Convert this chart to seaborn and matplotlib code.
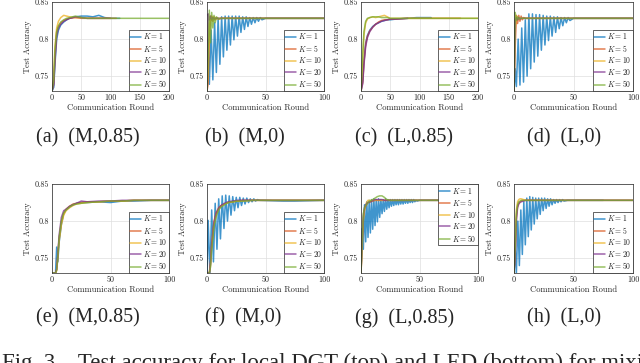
import numpy as np
import matplotlib
matplotlib.use("Agg")
import matplotlib.pyplot as plt
import seaborn as sns

# series labels and MATLAB default colours
k_labels = [r"$K = 1$", r"$K = 5$", r"$K = 10$", r"$K = 20$", r"$K = 50$"]
k_colors = ["#0072BD", "#D95319", "#EDB120", "#7E2F8E", "#77AC30"]
y_ticks = [0.75, 0.8, 0.85]
y_ticklabels = ["0.75", "0.8", "0.85"]

# (a) (M,0.85) - local DGT
a_rounds = [0, 3, 5, 8, 11, 15, 20, 25, 30, 40, 50, 60, 70, 80, 90, 100, 110, 116, 200]
a_k1 = [0.730, 0.735, 0.765, 0.800, 0.812, 0.819, 0.823, 0.826, 0.828, 0.830, 0.831, 0.831, 0.830, 0.832, 0.829, 0.828, 0.828, 0.828]
a_k5 = [0.730, 0.740, 0.775, 0.810, 0.817, 0.822, 0.825, 0.827, 0.828, 0.829, 0.828, 0.828, 0.828, 0.828, 0.828, 0.828, 0.828]
a_k10 = [0.730, 0.750, 0.790, 0.815, 0.824, 0.829, 0.832, 0.831, 0.830, 0.829, 0.829, 0.828, 0.828, 0.828, 0.828, 0.828]
a_k20 = [0.730, 0.738, 0.770, 0.805, 0.815, 0.820, 0.824, 0.826, 0.828, 0.830, 0.829, 0.828, 0.828, 0.828, 0.828, 0.828]
a_k50 = [0.730, 0.745, 0.785, 0.810, 0.818, 0.823, 0.826, 0.828, 0.829, 0.831, 0.829, 0.828, 0.828, 0.828, 0.828, 0.828, 0.828, 0.828, 0.828]

# (b) (M,0)
b_k1_rounds = [0, 1, 2, 3.5, 5, 6.5, 8, 9.5, 11, 12.5, 14, 15.5, 17, 18.5, 20, 21.5, 23, 24.5, 26, 27.5,
               29, 30.5, 32, 33.5, 35, 36.5, 38, 39.5, 41, 42.5, 44, 45.5, 47, 50, 100]
b_k1 = [0.730, 0.800, 0.739, 0.812, 0.745, 0.822, 0.755, 0.828, 0.766, 0.830, 0.776, 0.831, 0.785, 0.831,
        0.792, 0.831, 0.799, 0.831, 0.804, 0.831, 0.809, 0.830, 0.813, 0.830, 0.817, 0.829, 0.820, 0.829,
        0.822, 0.829, 0.824, 0.829, 0.826, 0.828, 0.828]
b_rounds = [0, 1, 2, 3, 4, 5, 6, 7, 8, 10, 12, 15, 20, 100]
b_k5 = [0.730, 0.740, 0.800, 0.826, 0.831, 0.824, 0.830, 0.826, 0.829, 0.827, 0.828, 0.828, 0.828, 0.828]
b_k10 = [0.730, 0.760, 0.820, 0.831, 0.825, 0.830, 0.826, 0.829, 0.827, 0.828, 0.828, 0.828, 0.828, 0.828]
b_k20 = [0.730, 0.834, 0.826, 0.831, 0.826, 0.829, 0.827, 0.828, 0.828, 0.828, 0.828, 0.828, 0.828, 0.828]
b_k50 = [0.730, 0.780, 0.839, 0.795, 0.836, 0.815, 0.832, 0.822, 0.830, 0.827, 0.828, 0.828, 0.828, 0.828]

# (c) (L,0.85)
c_rounds = [0, 3, 5, 8, 11, 15, 20, 25, 30, 35, 40, 45, 50, 60, 80, 95, 110, 120, 140, 170, 200]
c_k1 = [0.730, 0.745, 0.770, 0.795, 0.805, 0.812, 0.817, 0.820, 0.822, 0.824, 0.825, 0.826, 0.826, 0.827, 0.828, 0.829, 0.829, 0.829]
c_k5 = [0.730, 0.742, 0.768, 0.793, 0.804, 0.811, 0.816, 0.820, 0.823, 0.825, 0.826, 0.826, 0.827, 0.827, 0.828, 0.828, 0.828, 0.828, 0.828, 0.828]
c_k10 = [0.730, 0.775, 0.805, 0.822, 0.827, 0.829, 0.830, 0.829, 0.830, 0.831, 0.832, 0.830, 0.828, 0.828, 0.828, 0.828, 0.828, 0.828, 0.828, 0.828, 0.828]
c_k20 = [0.730, 0.740, 0.765, 0.790, 0.802, 0.810, 0.816, 0.820, 0.822, 0.824, 0.825, 0.826, 0.827, 0.827, 0.828]
c_k50 = [0.730, 0.780, 0.810, 0.824, 0.828, 0.829, 0.830, 0.830, 0.830, 0.829, 0.829, 0.829, 0.828, 0.828, 0.828, 0.828, 0.828, 0.828, 0.828, 0.828, 0.828]

# (d) (L,0)
d_k1_rounds = [0, 1, 2, 3.5, 5, 6.5, 8, 9.5, 11, 12.5, 14, 15.5, 17, 18.5, 20, 21.5, 23, 24.5, 26, 27.5,
               29, 30.5, 32, 33.5, 35, 36.5, 38, 39.5, 41, 42.5, 44, 45.5, 47, 50, 100]
d_k1 = [0.730, 0.760, 0.736, 0.800, 0.738, 0.815, 0.742, 0.826, 0.750, 0.834, 0.760, 0.834, 0.769, 0.833,
        0.777, 0.833, 0.785, 0.832, 0.792, 0.831, 0.798, 0.831, 0.804, 0.830, 0.809, 0.830, 0.814, 0.829,
        0.818, 0.829, 0.822, 0.829, 0.825, 0.828, 0.828]
d_rounds = [0, 1, 2, 3, 4, 5, 6, 7, 8, 10, 15, 100]
d_k5 = [0.730, 0.790, 0.832, 0.821, 0.832, 0.824, 0.831, 0.826, 0.829, 0.828, 0.828, 0.828]
d_k10 = [0.730, 0.815, 0.831, 0.826, 0.829, 0.827, 0.828, 0.828, 0.828, 0.828, 0.828, 0.828]
d_k20 = [0.730, 0.825, 0.829, 0.826, 0.829, 0.827, 0.828, 0.828, 0.828, 0.828, 0.828, 0.828]
d_k50 = [0.730, 0.836, 0.825, 0.830, 0.827, 0.828, 0.828, 0.828, 0.828, 0.828, 0.828, 0.828]

# (e) (M,0.85) - LED
e_rounds = [0, 3, 4, 5, 6, 8, 10, 12, 15, 18, 21, 25, 30, 40, 50, 60, 70, 85, 100]
e_k1 = [0.730, 0.730, 0.765, 0.745, 0.770, 0.795, 0.810, 0.815, 0.819, 0.822, 0.824, 0.825, 0.825, 0.826, 0.825, 0.827, 0.827, 0.828, 0.828]
e_k5 = [0.730, 0.730, 0.735, 0.755, 0.775, 0.798, 0.810, 0.816, 0.820, 0.823, 0.824, 0.825, 0.826, 0.826, 0.827, 0.827, 0.828, 0.828, 0.828]
e_k10 = [0.730, 0.730, 0.733, 0.750, 0.772, 0.795, 0.808, 0.814, 0.818, 0.821, 0.823, 0.824, 0.825, 0.826, 0.827, 0.827, 0.828, 0.828, 0.828]
e_k20 = [0.730, 0.730, 0.735, 0.755, 0.780, 0.805, 0.814, 0.816, 0.820, 0.822, 0.824, 0.827, 0.826, 0.827, 0.827, 0.828, 0.828, 0.828, 0.828]
e_k50 = [0.730, 0.730, 0.734, 0.752, 0.776, 0.800, 0.811, 0.815, 0.819, 0.822, 0.823, 0.824, 0.825, 0.826, 0.827, 0.827, 0.828, 0.828, 0.828]

# (f) (M,0)
f_k1_rounds = [0, 1, 2.5, 4, 5.5, 7, 8.5, 10, 11.5, 13, 14.5, 16, 17.5, 19, 20.5, 22, 23.5, 25, 26.5, 28,
               29.5, 31, 32.5, 34, 35.5, 37, 38.5, 40, 41.5, 43, 45, 65, 75, 100]
f_k1 = [0.730, 0.801, 0.730, 0.815, 0.745, 0.824, 0.762, 0.830, 0.776, 0.834, 0.790, 0.835, 0.800, 0.834,
        0.808, 0.833, 0.814, 0.832, 0.818, 0.832, 0.821, 0.831, 0.823, 0.831, 0.825, 0.830, 0.826, 0.830,
        0.827, 0.829, 0.828, 0.827, 0.827, 0.828]
f_rounds = [0, 2, 3, 4, 6, 8, 10, 12, 15, 18, 22, 26, 30, 40, 50, 100]
f_k5 = [0.730, 0.730, 0.745, 0.770, 0.800, 0.812, 0.818, 0.821, 0.823, 0.825, 0.826, 0.827, 0.828, 0.828, 0.828, 0.828]
f_k10 = [0.730, 0.730, 0.740, 0.765, 0.795, 0.809, 0.816, 0.820, 0.823, 0.825, 0.826, 0.827, 0.827, 0.828, 0.828, 0.828]
f_k20 = [0.730, 0.730, 0.742, 0.768, 0.798, 0.811, 0.817, 0.821, 0.824, 0.826, 0.827, 0.828, 0.828, 0.828, 0.828, 0.828]
f_k50 = [0.730, 0.730, 0.738, 0.762, 0.793, 0.807, 0.815, 0.819, 0.822, 0.825, 0.826, 0.827, 0.827, 0.828, 0.828, 0.828]

# (g) (L,0.85)
g_k1_rounds = [0, 1, 2, 3, 4, 5, 6, 7, 8, 9, 10, 11, 12, 13, 14, 15, 16, 17, 18, 19, 20, 21, 22, 23, 24,
               25, 26, 27, 28, 29, 30, 31, 32, 33, 34, 35, 36, 37, 38, 39, 40, 41, 42, 43, 44, 45, 46, 47, 48, 50, 100]
g_k1 = [0.730, 0.790, 0.762, 0.822, 0.772, 0.826, 0.778, 0.828, 0.784, 0.829, 0.789, 0.830, 0.794, 0.829,
        0.799, 0.830, 0.805, 0.829, 0.810, 0.829, 0.813, 0.830, 0.816, 0.829, 0.818, 0.829, 0.820, 0.829,
        0.821, 0.829, 0.822, 0.829, 0.822, 0.829, 0.823, 0.829, 0.823, 0.829, 0.824, 0.829, 0.824, 0.829,
        0.825, 0.829, 0.825, 0.829, 0.826, 0.828, 0.827, 0.828, 0.828]
g_rounds = [0, 1, 2, 3, 4, 5, 6, 8, 10, 12, 14, 16, 18, 20, 22, 25, 30, 40, 100]
g_k5 = [0.730, 0.775, 0.805, 0.815, 0.820, 0.823, 0.825, 0.826, 0.827, 0.828, 0.828, 0.828, 0.828, 0.828, 0.828, 0.828, 0.828, 0.828, 0.828]
g_k10 = [0.730, 0.760, 0.800, 0.815, 0.822, 0.826, 0.828, 0.828, 0.828, 0.828, 0.828, 0.828, 0.828, 0.828, 0.828, 0.828, 0.828, 0.828, 0.828]
g_k20 = [0.730, 0.770, 0.808, 0.818, 0.822, 0.824, 0.825, 0.826, 0.828, 0.829, 0.829, 0.829, 0.829, 0.828, 0.828, 0.828, 0.828, 0.828, 0.828]
g_k50 = [0.730, 0.775, 0.810, 0.818, 0.821, 0.823, 0.825, 0.827, 0.829, 0.831, 0.833, 0.834, 0.834, 0.832, 0.829, 0.828, 0.828, 0.828, 0.828]

# (h) (L,0)
h_k1_rounds = [0, 1, 2, 3.25, 4.5, 5.75, 7, 8.25, 9.5, 10.75, 12, 13.25, 14.5, 15.75, 17, 18.25, 19.5, 20.75,
               22, 23.25, 24.5, 25.75, 27, 28.25, 29.5, 30.75, 32, 33.25, 34.5, 35.75, 37, 38.25, 39.5, 40.75,
               42, 45, 75]
h_k1 = [0.730, 0.762, 0.730, 0.800, 0.740, 0.815, 0.755, 0.826, 0.768, 0.831, 0.779, 0.833, 0.788, 0.832,
        0.796, 0.831, 0.803, 0.831, 0.809, 0.831, 0.814, 0.831, 0.817, 0.830, 0.820, 0.830, 0.822, 0.829,
        0.824, 0.829, 0.825, 0.829, 0.826, 0.829, 0.827, 0.828, 0.828]
h_rounds = [0, 1, 2, 3, 4, 5, 6, 8, 10, 15, 100]
h_k5 = [0.730, 0.760, 0.805, 0.820, 0.824, 0.826, 0.827, 0.828, 0.828, 0.828, 0.828]
h_k10 = [0.730, 0.770, 0.815, 0.826, 0.829, 0.830, 0.830, 0.829, 0.828, 0.828, 0.828]
h_k20 = [0.730, 0.750, 0.800, 0.818, 0.823, 0.825, 0.826, 0.827, 0.828, 0.828, 0.828]
h_k50 = [0.730, 0.765, 0.810, 0.822, 0.826, 0.827, 0.828, 0.828, 0.828, 0.828, 0.828]

captions = ["(a)  (M,0.85)", "(b)  (M,0)", "(c)  (L,0.85)", "(d)  (L,0)",
            "(e)  (M,0.85)", "(f)  (M,0)", "(g)  (L,0.85)", "(h)  (L,0)"]

sns.set_style("whitegrid")
plt.rcParams["mathtext.fontset"] = "cm"
plt.rcParams["axes.formatter.use_mathtext"] = True
cm_font = "cmr10"
times = "Liberation Serif"

fig = plt.figure(figsize=(6.4, 3.63), dpi=100)

lefts = [52, 207, 361, 514]
widths = [117, 117, 117, 119]
row_tops = [2, 184]
ax_h = 89


def draw_panel(ax, series, xmax, legend_loc):
    for (rx, ry), c, lab in zip(series, k_colors, k_labels):
        sns.lineplot(x=rx[:len(ry)], y=ry, ax=ax, color=c, lw=1.1, alpha=0.75,
                     label=lab, sort=False, estimator=None)
    ax.set_xlim(0, xmax)
    ax.set_ylim(0.73, 0.85)
    xt = list(range(0, xmax + 1, 50))
    ax.set_xticks(xt)
    ax.set_xticklabels([str(v) for v in xt], fontsize=5.8, family=cm_font)
    ax.set_yticks(y_ticks)
    ax.set_yticklabels(y_ticklabels, fontsize=5.8, family=cm_font)
    ax.tick_params(direction="in", length=2, width=0.5, pad=2, colors="#262626")
    ax.grid(True, color="#dedede", lw=0.5)
    for sp in ax.spines.values():
        sp.set_color("#262626")
        sp.set_linewidth(0.5)
    ax.set_xlabel("Communication Round", fontsize=6.2, family=cm_font, labelpad=1)
    ax.set_ylabel("Test Accuracy", fontsize=6, family=cm_font, labelpad=2)
    leg = ax.legend(loc=legend_loc, fontsize=5.5, labelspacing=0.2, handlelength=1.4,
                    handletextpad=0.3, borderpad=0.2, borderaxespad=0, fancybox=False,
                    framealpha=1)
    leg.get_frame().set_edgecolor("#262626")
    leg.get_frame().set_linewidth(0.5)
    for line in leg.get_lines():
        line.set_alpha(0.75)


panels = [
    ([(a_rounds, a_k1), (a_rounds, a_k5), (a_rounds, a_k10), (a_rounds, a_k20), (a_rounds, a_k50)], 200, "lower right"),
    ([(b_k1_rounds, b_k1), (b_rounds, b_k5), (b_rounds, b_k10), (b_rounds, b_k20), (b_rounds, b_k50)], 100, "lower right"),
    ([(c_rounds, c_k1), (c_rounds, c_k5), (c_rounds, c_k10), (c_rounds, c_k20), (c_rounds, c_k50)], 200, "lower right"),
    ([(d_k1_rounds, d_k1), (d_rounds, d_k5), (d_rounds, d_k10), (d_rounds, d_k20), (d_rounds, d_k50)], 100, "lower right"),
    ([(e_rounds, e_k1), (e_rounds, e_k5), (e_rounds, e_k10), (e_rounds, e_k20), (e_rounds, e_k50)], 100, "lower right"),
    ([(f_k1_rounds, f_k1), (f_rounds, f_k5), (f_rounds, f_k10), (f_rounds, f_k20), (f_rounds, f_k50)], 100, "lower right"),
    ([(g_k1_rounds, g_k1), (g_rounds, g_k5), (g_rounds, g_k10), (g_rounds, g_k20), (g_rounds, g_k50)], 100, "upper right"),
    ([(h_k1_rounds, h_k1), (h_rounds, h_k5), (h_rounds, h_k10), (h_rounds, h_k20), (h_rounds, h_k50)], 100, "lower right"),
]

cap_x = [36, 205, 355, 527]
cap_y = [138, 318]

for i, (series, xmax, loc) in enumerate(panels):
    row, col = divmod(i, 4)
    l = lefts[col] / 640
    b = 1 - (row_tops[row] + ax_h) / 363
    ax = fig.add_axes([l, b, widths[col] / 640, ax_h / 363])
    draw_panel(ax, series, xmax, loc)
    fig.text(cap_x[col] / 640, 1 - cap_y[row] / 363, captions[i], family=times,
             fontsize=14.5, ha="left", va="center")

# figure caption, cut by the bottom edge as in the page crop
fig.text(2 / 640, 1 - 369 / 363,
         "Fig. 3.   Test accuracy for local DGT (top) and LED (bottom) for mixing",
         family=times, fontsize=16.5, ha="left", va="baseline")

fig.savefig("out.png", dpi=100)
